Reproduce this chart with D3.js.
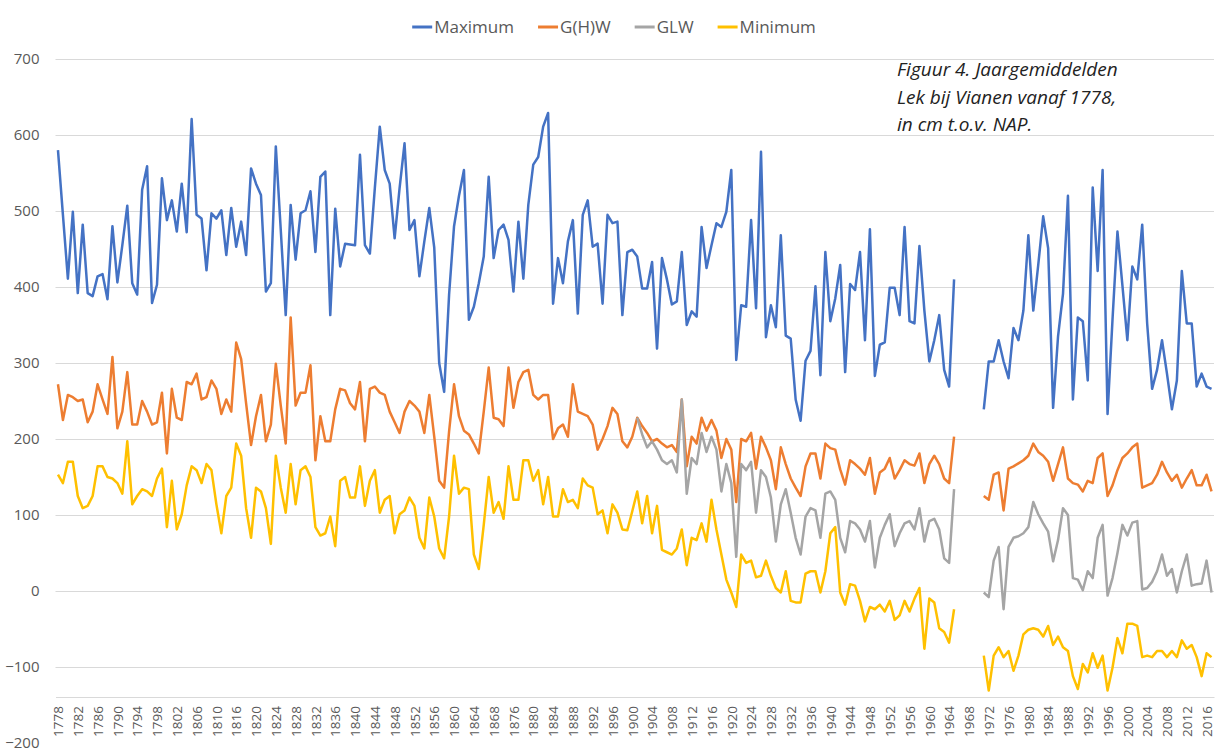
<!DOCTYPE html>
<html>
<head>
<meta charset="utf-8">
<script src="https://cdn.jsdelivr.net/npm/d3@7"></script>
<style>
  body { margin: 0; background: #fff; }
  text { font-family: "Open Sans", sans-serif; }
</style>
</head>
<body>
<div id="chart"></div>
<script>
var svgWidth = 1217;
var svgHeight = 751;

// categories: yearly values, some years are absent in the source table
var missingYears = [1814, 1815, 1872, 1873, 1874, 1875];
var years = d3.range(1778, 2018).filter(d => missingYears.indexOf(d) < 0);

var gap = [null, null, null, null, null];

var maxVals = [
  580,495,411,499,392,482,392,388,414,417,
  384,480,406,455,507,405,390,528,559,379,
  403,543,488,514,473,536,472,621,495,490,
  422,497,490,501,442,504,453,486,442,556,
  536,521,394,405,585,475,363,508,436,497,
  501,526,446,545,552,363,503,427,457,456,
  455,574,455,444,530,611,554,536,464,530,
  589,475,488,414,460,504,452,300,262,390,
  480,520,554,357,374,405,440,545,438,475,
  482,462,394,486,411,508,561,571,611,629,
  378,438,405,460,488,365,495,514,453,457,
  378,495,484,486,363,446,449,440,398,398,
  433,319,438,410,377,381,446,350,368,361,
  479,425,455,484,479,499,554,304,376,374,
  488,372,578,334,376,347,468,336,332,252,
  224,303,316,401,284,446,355,385,429,288,
  404,396,446,330,476,283,324,327,399,399,
  363,479,355,352,454,369,302,330,363,291,
  269,410
].concat(gap, [
  239,302,302,330,302,280,346,330,369,468,
  369,429,493,451,241,335,391,520,252,360,
  355,277,531,421,554,233,357,473,402,330,
  427,410,482,352,266,291,330,286,239,277,
  421,352,352,269,286,269,266
]);

var ghwVals = [
  272,225,258,255,250,252,222,236,272,252,
  233,308,214,236,288,219,219,250,236,219,
  222,261,181,266,228,225,275,272,286,252,
  255,277,266,233,252,236,327,305,247,192,
  230,258,197,219,299,244,194,360,244,261,
  261,297,172,230,197,197,239,266,264,247,
  239,275,197,266,269,261,258,236,222,208,
  236,250,244,236,208,258,203,145,136,210,
  272,230,211,206,194,181,236,294,228,226,
  217,294,241,275,288,291,258,252,258,258,
  200,214,219,203,272,236,233,230,219,186,
  200,217,241,233,197,189,203,228,217,208,
  197,200,194,189,192,183,252,164,203,194,
  228,211,225,211,175,200,186,117,200,197,
  208,161,203,189,172,134,189,167,148,136,
  125,164,181,181,148,194,188,186,160,140,
  172,167,161,153,175,128,156,161,175,148,
  159,172,167,165,181,142,167,178,167,148,
  142,203
].concat(gap, [
  125,120,153,156,106,161,164,168,172,178,
  194,183,178,170,145,167,189,148,142,140,
  131,145,142,175,181,125,139,159,175,181,
  189,194,136,139,142,153,170,156,145,153,
  136,148,159,139,139,153,131
]);

// GLW is only recorded from 1901 on
var glwVals = new Array(117).fill(null).concat([
  228,206,189,197,186,172,167,172,156,252,
  128,175,167,208,183,203,186,131,167,142,
  45,167,159,170,103,159,150,123,65,114,
  134,103,70,48,98,109,106,70,128,131,
  120,70,51,92,89,81,65,92,31,70,
  87,101,59,76,89,92,81,109,65,92,
  95,81,43,37,134
], gap, [
  -2,-8,40,58,-24,58,70,72,76,84,
  117,101,89,78,39,67,109,100,17,15,
  1,26,17,70,87,-6,17,50,87,73,
  90,92,2,4,12,26,48,20,29,-2,
  26,48,7,9,10,40,-2
]);

var minVals = [
  153,142,170,170,125,109,112,125,164,164,
  150,148,142,128,197,114,125,134,131,125,
  148,161,84,145,81,101,139,164,159,142,
  167,159,114,76,125,136,194,178,109,70,
  136,131,109,62,178,136,103,167,114,159,
  164,150,84,73,76,98,59,145,150,123,
  123,164,112,145,159,103,120,125,76,101,
  106,123,112,70,56,123,98,56,43,98,
  178,128,136,134,48,29,87,150,103,117,
  95,164,120,120,172,172,145,159,114,150,
  98,98,134,117,120,109,148,139,136,101,
  106,76,114,103,81,80,105,131,89,125,
  76,112,54,51,48,56,81,34,70,67,
  89,65,120,81,48,15,-2,-21,48,37,
  40,18,20,40,20,4,-2,26,-13,-15,
  -15,23,26,26,-2,26,76,84,-2,-18,
  9,7,-13,-40,-21,-24,-18,-27,-13,-38,
  -32,-13,-27,-10,4,-76,-10,-15,-49,-54,
  -68,-24
].concat(gap, [
  -85,-131,-85,-74,-87,-79,-105,-85,-57,-51,
  -49,-51,-60,-46,-71,-60,-74,-79,-112,-129,
  -96,-107,-82,-101,-85,-131,-101,-62,-82,-43,
  -43,-46,-87,-85,-87,-79,-79,-87,-79,-87,
  -65,-76,-71,-87,-112,-82,-87
]);

var seriesNames = ["Maximum", "G(H)W", "GLW", "Minimum"];
var seriesColors = ["#4472C4", "#ED7D31", "#A5A5A5", "#FFC000"];
var yTicks = [700, 600, 500, 400, 300, 200, 100, 0, -100, -200];
var gridTicks = [700, 600, 500, 400, 300, 200, 100, 0, -100];
var noteLines = ["Figuur 4. Jaargemiddelden", "Lek bij Vianen vanaf 1778,", "in cm t.o.v. NAP."];

var allSeries = [maxVals, ghwVals, glwVals, minVals].map(function(vals, k) {
  return {
    name: seriesNames[k],
    color: seriesColors[k],
    values: years.map((yr, i) => ({ year: yr, v: vals[i] }))
  };
});

var plotLeft = 55.5, plotRight = 1214;

var svg = d3.select("#chart")
  .append("svg")
  .attr("width", svgWidth)
  .attr("height", svgHeight);

var x = d3.scalePoint()
  .domain(years)
  .range([plotLeft, plotRight])
  .padding(0.5);

var y = d3.scaleLinear()
  .domain([-100, 700])
  .range([667, 59]);

// gridlines
var grid = svg.append("g")
  .attr("transform", `translate(${plotLeft}, 0)`)
  .call(d3.axisLeft(y).tickValues(gridTicks).tickSize(-(plotRight - plotLeft)).tickFormat(""));
grid.select(".domain").remove();
grid.selectAll("line").attr("stroke", "#d9d9d9").attr("stroke-width", 1);

// y labels
var yAxis = svg.append("g")
  .attr("transform", `translate(${plotLeft}, 0)`)
  .call(d3.axisLeft(y).tickValues(yTicks).tickSize(0).tickPadding(16));
yAxis.select(".domain").remove();
yAxis.selectAll("text")
  .attr("fill", "#595959")
  .style("font-size", "15px")
  .style("font-family", "'Open Sans', sans-serif");

// category axis
var xAxis = svg.append("g")
  .attr("transform", "translate(0, 697)")
  .call(d3.axisBottom(x)
    .tickValues(years.filter((d, i) => i % 4 === 0))
    .tickSize(0)
    .tickSizeOuter(0));
xAxis.select(".domain").attr("stroke", "#d9d9d9");
xAxis.selectAll("text")
  .attr("transform", "rotate(-90)")
  .attr("text-anchor", "end")
  .attr("x", -9)
  .attr("y", 0)
  .attr("dy", "0.35em")
  .attr("fill", "#595959")
  .style("font-size", "13.5px")
  .style("font-family", "'Open Sans', sans-serif");

// lines
var line = d3.line()
  .defined(d => d.v != null)
  .x(d => x(d.year))
  .y(d => y(d.v));

svg.selectAll(".series")
  .data(allSeries)
  .enter()
  .append("path")
  .attr("class", "series")
  .attr("fill", "none")
  .attr("stroke", d => d.color)
  .attr("stroke-width", 2.5)
  .attr("stroke-linejoin", "round")
  .attr("d", d => line(d.values));

// legend
var legend = svg.append("g");
var lx = 0;
allSeries.forEach(function(s) {
  var item = legend.append("g").attr("transform", `translate(${lx}, 27)`);
  item.append("line")
    .attr("x1", 0).attr("x2", 20)
    .attr("stroke", s.color).attr("stroke-width", 3);
  var t = item.append("text")
    .attr("x", 22).attr("dy", "0.35em")
    .attr("fill", "#595959")
    .style("font-size", "17px")
    .text(s.name);
  lx += 22 + t.node().getComputedTextLength() + 24;
});
legend.attr("transform", `translate(${614 - (lx - 24) / 2}, 0)`);

// note
svg.append("text")
  .attr("x", 897)
  .attr("y", 76)
  .attr("fill", "#222")
  .style("font-size", "19px")
  .style("font-style", "italic")
  .selectAll("tspan")
  .data(noteLines)
  .enter()
  .append("tspan")
  .attr("x", 897)
  .attr("dy", (d, i) => i === 0 ? 0 : 27.5)
  .text(d => d);
</script>
</body>
</html>
